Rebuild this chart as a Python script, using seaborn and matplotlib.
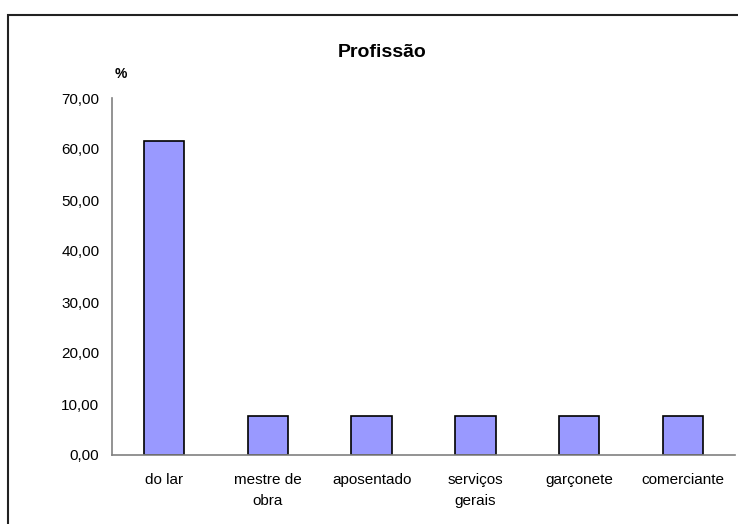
import numpy as np
import pandas as pd
import seaborn as sns
import matplotlib.pyplot as plt
from matplotlib.patches import Rectangle

# Data
categorias = ["do lar", "mestre de\nobra", "aposentado", "serviços\ngerais", "garçonete", "comerciante"]
percentual = [61.54, 7.69, 7.69, 7.69, 7.69, 7.69]
y_ticks = [0, 10, 20, 30, 40, 50, 60, 70]

df = pd.DataFrame({"profissao": categorias, "pct": percentual})

sns.set_style("white")
plt.rcParams['font.family'] = ['Liberation Sans', 'DejaVu Sans']
plt.rcParams['text.color'] = 'black'
plt.rcParams['xtick.labelcolor'] = 'black'
plt.rcParams['ytick.labelcolor'] = 'black'

fig = plt.figure(figsize=(7.38, 5.24), dpi=100)
ax = fig.add_axes([112/738, 69/524, 623/738, 357/524])

sns.barplot(data=df, x="profissao", y="pct", color="#9999FF", saturation=1,
            edgecolor="black", linewidth=1.2, width=0.39, ax=ax)

ax.set_ylim(0, 70)
ax.set_xlim(-0.5, len(categorias) - 0.5)
ax.set_yticks(y_ticks)
ax.set_yticklabels([f"{v:.2f}".replace(".", ",") for v in y_ticks], fontsize=11)
ax.set_xticks(np.arange(len(categorias) + 1) - 0.5, minor=True)
ax.set_xticks(np.arange(len(categorias)))
ax.set_xticklabels(categorias, fontsize=11, linespacing=1.65)
ax.tick_params(axis="x", which="major", length=0, pad=13)
ax.tick_params(axis="x", which="minor", length=5, color="#808080", direction="out", width=1)
ax.tick_params(axis="y", length=5, color="#808080", direction="out", width=1, pad=4)
ax.set_xlabel("")
ax.set_ylabel("")

for side in ["top", "right"]:
    ax.spines[side].set_visible(False)
for side in ["left", "bottom"]:
    ax.spines[side].set_color("#808080")
    ax.spines[side].set_linewidth(1.2)

fig.text(382/738, 1 - 57/524, "Profissão", ha="center", va="baseline",
         fontsize=14, fontweight="bold")
fig.text(121/738, 1 - 78/524, "%", ha="center", va="baseline",
         fontsize=10, fontweight="bold")

# chart border (only left and top edges fall inside the image)
fig.patches.append(Rectangle((8/738, -0.05), 1.0, 1 - 15/524 + 0.05,
                             transform=fig.transFigure, fill=False,
                             edgecolor="#222222", linewidth=1.5))

fig.savefig("out.png", dpi=100)
